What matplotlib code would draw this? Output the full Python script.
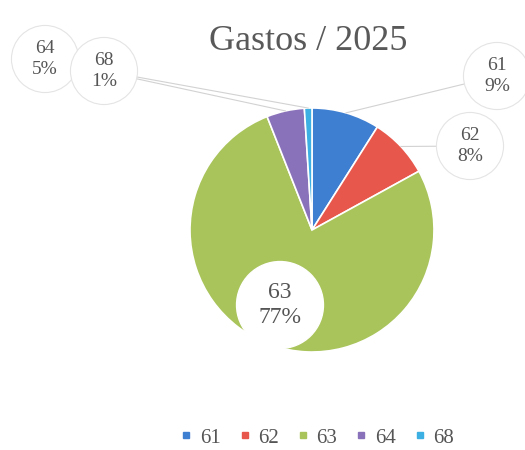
import numpy as np
import matplotlib as mpl
mpl.use('Agg')
import matplotlib.pyplot as plt
from matplotlib.lines import Line2D

plt.rcParams['font.family'] = ['Liberation Serif', 'DejaVu Serif']

# gastos por conta, em %
contas = ['61', '62', '63', '64', '68']
valores = [9, 8, 77, 5, 1]
cores = ['#3f7fd2', '#e8574b', '#a9c45b', '#8a72ba', '#3cb0e2']

# posição das etiquetas (pixels, origem em baixo à esquerda)
etiq_x = [497, 470, 280, 45, 104]
etiq_y = [374, 304, 145, 391, 379]
etiq_fs = [14, 14, 17, 14, 14]

cx, cy, raio = 312, 220, 122

fig = plt.figure(figsize=(5.25, 4.5), dpi=100)
ax = fig.add_axes([0, 0, 1, 1])

wedges, _ = ax.pie(valores, colors=cores, startangle=90, counterclock=False,
                   center=(cx, cy), radius=raio,
                   wedgeprops=dict(edgecolor='white', linewidth=1.2))
ax.set_xlim(0, 525)
ax.set_ylim(0, 450)
ax.set_aspect('equal')
ax.axis('off')

acum = np.cumsum([0] + valores[:-1])
for i, c in enumerate(contas):
    meio = 90 - 360 * (acum[i] + valores[i] / 2) / 100
    txt = '%s\n%d%%' % (c, valores[i])
    if c == '63':
        ax.text(etiq_x[i], etiq_y[i], txt, ha='center', va='center',
                fontsize=etiq_fs[i], color='#555555', linespacing=1.3,
                bbox=dict(boxstyle='circle,pad=0.85', fc='white', ec='white'))
        continue
    px = cx + raio * np.cos(np.radians(meio))
    py = cy + raio * np.sin(np.radians(meio))
    ax.plot([etiq_x[i], px], [etiq_y[i], py], color='#d2d2d2', lw=0.8, zorder=1)
    ax.text(etiq_x[i], etiq_y[i], txt, ha='center', va='center',
            fontsize=etiq_fs[i], color='#555555', linespacing=1.3, zorder=3,
            bbox=dict(boxstyle='circle,pad=0.75', fc='white', ec='#e4e4e4', lw=0.8))

ax.text(308, 408, 'Gastos / 2025', ha='center', va='center',
        fontsize=26, color='#595959')

handles = [Line2D([], [], marker='s', ls='', color=cor, markersize=4) for cor in cores]
fig.legend(handles, contas, loc='center', bbox_to_anchor=(0.605, 0.027), ncol=5,
           frameon=False, fontsize=15, handlelength=0.5, handletextpad=0.4,
           columnspacing=0.9, labelcolor='#555555')

fig.savefig('out.png', dpi=100)
